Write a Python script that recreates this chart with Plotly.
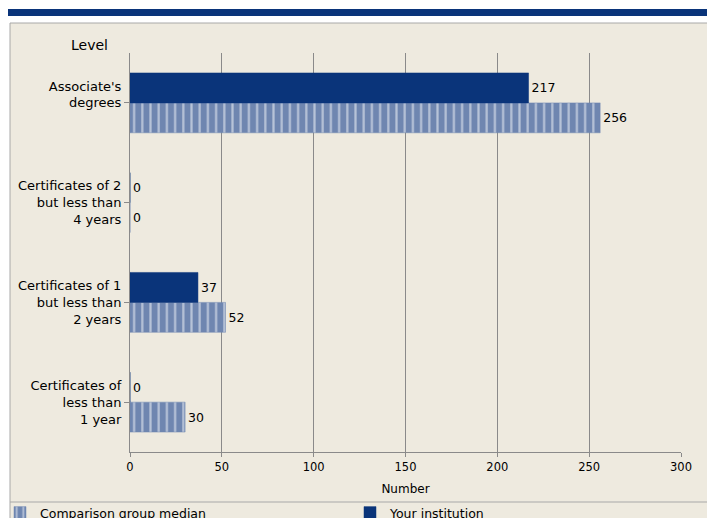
import plotly.graph_objects as go

NB = "\u00a0"
categories = ["Associate's<br>degrees<br>" + NB,
              "Certificates of 2<br>but less than<br>4 years",
              "Certificates of 1<br>but less than<br>2 years",
              "Certificates of<br>less than<br>1 year"]
comparison = [256, 0, 52, 30]
institution = [217, 0, 37, 0]
x_ticks = [0, 50, 100, 150, 200, 250, 300]

FONT = "DejaVu Sans"
BG = "#eeeadf"
NAVY = "#0a347a"
STRIPE = "#6f86b0"
GRID = "#8a8a8a"
TXT = "#000000"

OFF = 8  # page body margin
W, H = 707, 510
L, R, T, B = 122, 34, 45, 66
pw, ph = W - L - R, H - T - B


def px(x):  # page pixel -> paper x
    return (x - OFF - L) / pw


def py(y):  # page pixel -> paper y
    return (H - B - (y - OFF)) / ph


fig = go.Figure()
fig.add_trace(go.Bar(
    y=categories, x=comparison, orientation="h", name="Comparison group median",
    marker=dict(color=STRIPE, line=dict(color=STRIPE, width=0.5),
                pattern=dict(shape="|", fgcolor="white", bgcolor=STRIPE,
                             size=8.2, solidity=0.27)),
    text=[str(v) for v in comparison], textposition="outside",
    textfont=dict(family=FONT, size=12.5, color=TXT), cliponaxis=False,
    legend="legend",
))
fig.add_trace(go.Bar(
    y=categories, x=institution, orientation="h", name="Your institution",
    marker=dict(color=NAVY, line=dict(color=NAVY, width=0.5)),
    text=[str(v) for v in institution], textposition="outside",
    textfont=dict(family=FONT, size=12.5, color=TXT), cliponaxis=False,
    legend="legend2",
))

shapes = [
    dict(type="rect", xref="paper", yref="paper", x0=px(10), x1=px(711), y0=py(530), y1=py(23),
         fillcolor=BG, line=dict(color="#a8a8a8", width=1), layer="below"),
    dict(type="rect", xref="paper", yref="paper", x0=px(8), x1=px(716), y0=py(16), y1=py(9),
         fillcolor=NAVY, line=dict(width=0), layer="below"),
    dict(type="line", xref="paper", yref="paper", x0=px(10), x1=px(711), y0=py(502), y1=py(502),
         line=dict(color="#a8a8a8", width=1), layer="below"),
]

legend_common = dict(orientation="h", yanchor="top", xanchor="left", bgcolor="rgba(0,0,0,0)",
                     font=dict(family=FONT, size=12.5, color=TXT))

fig.update_layout(
    width=W, height=H,
    margin=dict(l=L, r=R, t=T, b=B, autoexpand=False),
    paper_bgcolor="white", plot_bgcolor=BG,
    barmode="group", bargap=0.4, bargroupgap=0,
    font=dict(family=FONT, size=12, color=TXT),
    shapes=shapes,
    showlegend=True,
    legend=dict(x=px(0), y=py(498), **legend_common),
    legend2=dict(x=px(350), y=py(498), **legend_common),
    xaxis=dict(range=[0, 300], tickvals=x_ticks, showgrid=True, gridcolor=GRID, gridwidth=1,
               zeroline=False, showline=True, linecolor=GRID, ticks="outside", ticklen=4,
               tickcolor=GRID,
               title=dict(text="Number", font=dict(family=FONT, size=12, color=TXT), standoff=11),
               tickfont=dict(family=FONT, size=11.5, color=TXT), fixedrange=True),
    yaxis=dict(categoryorder="array", categoryarray=categories[::-1], showgrid=False,
               showline=True, linecolor=GRID, ticks="outside", ticklen=5, tickcolor=GRID,
               tickfont=dict(family=FONT, size=13, color=TXT), fixedrange=True),
    annotations=[dict(text="Level", xref="paper", yref="paper", x=px(69), y=py(45),
                      xanchor="left", yanchor="middle", showarrow=False,
                      font=dict(family=FONT, size=14, color=TXT))],
)

fig.write_html("out.html")
